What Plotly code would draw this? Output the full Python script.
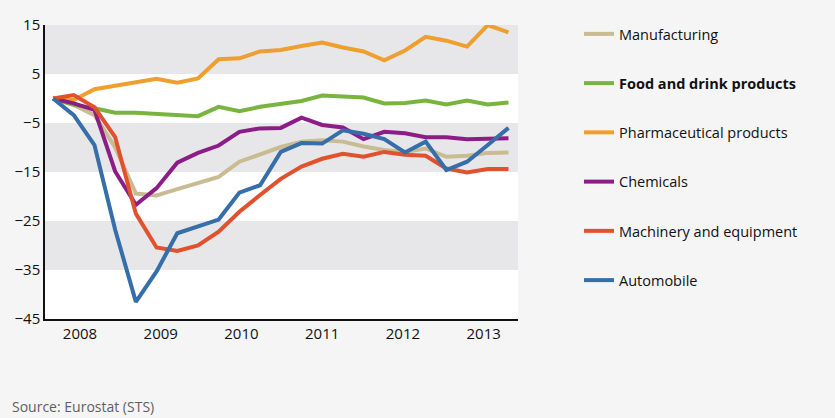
import plotly.graph_objects as go

quarters = [f"{y}Q{q}" for y in range(2008, 2014) for q in range(1, 5)][:23]
xpos = list(range(len(quarters)))

manufacturing = [0, -1.3, -3.4, -10.0, -19.4, -19.8, -18.5, -17.3, -16.0, -12.9, -11.5, -9.9,
                 -8.8, -8.5, -8.8, -9.8, -10.5, -10.9, -10.2, -11.9, -11.7, -11.1, -11.0]
food = [0, -1.3, -2.0, -2.9, -2.9, -3.2, -3.4, -3.6, -1.7, -2.6, -1.7, -1.1,
        -0.5, 0.6, 0.4, 0.2, -1.0, -0.9, -0.4, -1.2, -0.4, -1.2, -0.8]
pharma = [0, -0.3, 1.9, 2.6, 3.4, 4.0, 3.2, 4.1, 8.0, 8.2, 9.6, 9.9,
          10.7, 11.4, 10.4, 9.6, 7.8, 9.8, 12.6, 11.8, 10.6, 15.0, 13.5]
chemicals = [0, -1.0, -2.3, -14.9, -21.7, -18.3, -13.1, -11.1, -9.6, -6.8, -6.1, -6.0,
             -3.9, -5.4, -5.9, -8.3, -6.8, -7.1, -7.9, -7.9, -8.3, -8.1, -8.1]
machinery = [0, 0.7, -1.8, -7.9, -23.5, -30.4, -31.1, -30.0, -27.2, -23.1, -19.7, -16.4,
             -13.9, -12.3, -11.3, -11.9, -10.9, -11.5, -11.7, -14.3, -15.1, -14.4, -14.4]
automobile = [0, -3.4, -9.5, -26.8, -41.5, -35.3, -27.5, -26.0, -24.7, -19.2, -17.7, -10.9,
              -9.1, -9.2, -6.5, -7.2, -8.3, -11.0, -8.8, -14.6, -12.9, -9.5, -6.0]

year_labels = ["2008", "2009", "2010", "2011", "2012", "2013"]
year_tickpos = [1.3, 5.2, 9.1, 13.0, 16.9, 20.8]
y_ticks = [-45, -35, -25, -15, -5, 5, 15]
bands = [(5, 15), (-15, -5), (-35, -25)]

series = [
    ("Manufacturing", manufacturing, "#c9bb92"),
    ("<b>Food and drink products</b>", food, "#79b43f"),
    ("Pharmaceutical products", pharma, "#ef9f2f"),
    ("Chemicals", chemicals, "#8c1d87"),
    ("Machinery and equipment", machinery, "#e2512d"),
    ("Automobile", automobile, "#356ea8"),
]

fig = go.Figure()
for i, (name, vals, col) in enumerate(series):
    fig.add_trace(go.Scatter(x=xpos, y=vals, name=name, mode="lines",
                             line=dict(color=col, width=4),
                             legendgroup=f"g{i}"))

for lo, hi in bands:
    fig.add_shape(type="rect", xref="paper", x0=0, x1=1, yref="y", y0=lo, y1=hi,
                  fillcolor="#e7e7e9", line=dict(width=0), layer="below")

fig.update_layout(
    width=835, height=418,
    margin=dict(l=45, r=317, t=25, b=99),
    paper_bgcolor="#f5f5f5", plot_bgcolor="#ffffff",
    font=dict(family="Open Sans", size=15, color="#111111"),
    showlegend=True,
    legend=dict(x=1.129, y=1.024, xanchor="left", yanchor="top",
                bgcolor="rgba(0,0,0,0)", tracegroupgap=27.4, maxheight=400,
                font=dict(size=14.5, color="#111111")),
    xaxis=dict(range=[-0.39, 22.46], tickmode="array", tickvals=year_tickpos,
               ticktext=year_labels, showgrid=False, zeroline=False,
               showline=True, linecolor="#111111", linewidth=1.5, ticks="",
               tickfont=dict(size=15)),
    yaxis=dict(range=[-45, 15], tickmode="array", tickvals=y_ticks,
               showgrid=False, zeroline=False, showline=True,
               linecolor="#111111", linewidth=1.5, ticks="",
               tickfont=dict(size=15)),
)

fig.add_annotation(text="Source: Eurostat (STS)", xref="paper", yref="paper",
                   x=-35/473, y=-(406-319)/294, xanchor="left", yanchor="middle",
                   showarrow=False, font=dict(size=14, color="#5f5f5f"))

fig.write_html("out.html", config={"displayModeBar": False},
               post_script="document.body.style.margin='0';document.body.style.background='#f5f5f5';")
